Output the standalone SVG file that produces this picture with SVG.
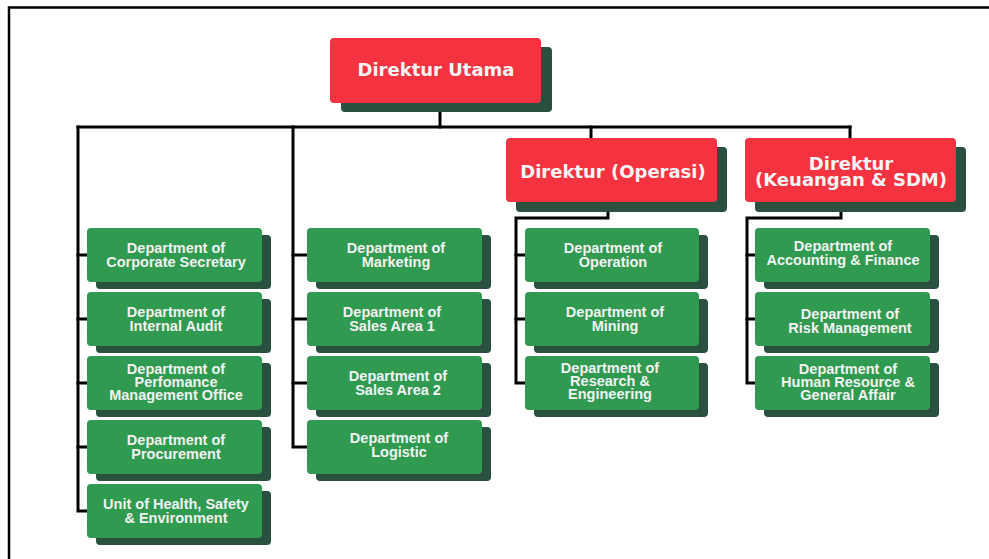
<svg xmlns="http://www.w3.org/2000/svg" width="989" height="559" viewBox="0 0 989 559">
<style>
.bg{fill:#ffffff}
.frame{fill:none;stroke:#000;stroke-width:2.5}
.conn{fill:none;stroke:#000;stroke-width:3;stroke-linecap:square;stroke-linejoin:miter}
.red{fill:#F5323F}
.gr{fill:#2F9A50}
.sh{fill:#2A5040}
.rt{font-family:"DejaVu Sans",sans-serif;font-weight:bold;font-size:18px;fill:#F6F6F6;text-anchor:middle}
.gt{font-family:"Liberation Sans",Arial,sans-serif;font-weight:bold;font-size:14.5px;fill:#F2F2F2;text-anchor:middle}
</style>
<rect class="bg" x="0" y="0" width="989" height="559"/>
<path class="frame" d="M9,559 V7.5 H989"/>
<g id="connectors">
<path class="conn" d="M440,105 V127"/>
<path class="conn" d="M78,127 H850"/>
<path class="conn" d="M78,127 V511 H87"/>
<path class="conn" d="M78,255 H87 M78,319 H87 M78,383 H87 M78,447 H87"/>
<path class="conn" d="M293,127 V447 H307"/>
<path class="conn" d="M293,255 H307 M293,319 H307 M293,383 H307"/>
<path class="conn" d="M591,127 V138"/>
<path class="conn" d="M850,127 V138"/>
<path class="conn" d="M608,210 V218 H516 V383 H525"/>
<path class="conn" d="M516,255 H525 M516,319 H525"/>
<path class="conn" d="M841,210 V218 H747 V383 H755"/>
<path class="conn" d="M747,255 H755 M747,319 H755"/>
</g>
<g id="direktur-utama">
<rect class="sh" x="341" y="47" width="211" height="65" rx="4"/>
<rect class="red" x="330" y="38" width="211" height="65" rx="4"/>
<text class="rt" x="436" y="76">Direktur Utama</text>
</g>
<g id="direktur-operasi">
<rect class="sh" x="516" y="147" width="211" height="65" rx="4"/>
<rect class="red" x="506" y="138" width="211" height="64" rx="4"/>
<text class="rt" x="613" y="178">Direktur (Operasi)</text>
</g>
<g id="direktur-keuangan">
<rect class="sh" x="755" y="147" width="211" height="65" rx="4"/>
<rect class="red" x="745" y="138" width="211" height="64" rx="4"/>
<text class="rt" x="851" y="170">Direktur<tspan x="851" dy="16">(Keuangan &amp; SDM)</tspan></text>
</g>
<g id="corporate-secretary">
<rect class="sh" x="96" y="235" width="175" height="54" rx="4"/>
<rect class="gr" x="87" y="228" width="175" height="54" rx="4"/>
<text class="gt" x="176" y="253">Department of<tspan x="176" dy="14">Corporate Secretary</tspan></text>
</g>
<g id="internal-audit">
<rect class="sh" x="96" y="299" width="175" height="54" rx="4"/>
<rect class="gr" x="87" y="292" width="175" height="54" rx="4"/>
<text class="gt" x="176" y="317">Department of<tspan x="176" dy="14">Internal Audit</tspan></text>
</g>
<g id="performance-management">
<rect class="sh" x="96" y="363" width="175" height="54" rx="4"/>
<rect class="gr" x="87" y="356" width="175" height="54" rx="4"/>
<text class="gt" x="176" y="374">Department of<tspan x="176" dy="13">Perfomance</tspan><tspan x="176" dy="13">Management Office</tspan></text>
</g>
<g id="procurement">
<rect class="sh" x="96" y="427" width="175" height="54" rx="4"/>
<rect class="gr" x="87" y="420" width="175" height="54" rx="4"/>
<text class="gt" x="176" y="445">Department of<tspan x="176" dy="14">Procurement</tspan></text>
</g>
<g id="hse">
<rect class="sh" x="96" y="491" width="175" height="54" rx="4"/>
<rect class="gr" x="87" y="484" width="175" height="54" rx="4"/>
<text class="gt" x="176" y="509">Unit of Health, Safety<tspan x="176" dy="14">&amp; Environment</tspan></text>
</g>
<g id="marketing">
<rect class="sh" x="316" y="235" width="175" height="54" rx="4"/>
<rect class="gr" x="307" y="228" width="175" height="54" rx="4"/>
<text class="gt" x="396" y="253">Department of<tspan x="396" dy="14">Marketing</tspan></text>
</g>
<g id="sales-area-1">
<rect class="sh" x="316" y="299" width="175" height="54" rx="4"/>
<rect class="gr" x="307" y="292" width="175" height="54" rx="4"/>
<text class="gt" x="392" y="317">Department of<tspan x="392" dy="14">Sales Area 1</tspan></text>
</g>
<g id="sales-area-2">
<rect class="sh" x="316" y="363" width="175" height="54" rx="4"/>
<rect class="gr" x="307" y="356" width="175" height="54" rx="4"/>
<text class="gt" x="398" y="381">Department of<tspan x="398" dy="14">Sales Area 2</tspan></text>
</g>
<g id="logistic">
<rect class="sh" x="316" y="427" width="175" height="54" rx="4"/>
<rect class="gr" x="307" y="420" width="175" height="54" rx="4"/>
<text class="gt" x="399" y="443">Department of<tspan x="399" dy="14">Logistic</tspan></text>
</g>
<g id="operation">
<rect class="sh" x="534" y="235" width="174" height="54" rx="4"/>
<rect class="gr" x="525" y="228" width="174" height="54" rx="4"/>
<text class="gt" x="613" y="253">Department of<tspan x="613" dy="14">Operation</tspan></text>
</g>
<g id="mining">
<rect class="sh" x="534" y="299" width="174" height="54" rx="4"/>
<rect class="gr" x="525" y="292" width="174" height="54" rx="4"/>
<text class="gt" x="615" y="317">Department of<tspan x="615" dy="14">Mining</tspan></text>
</g>
<g id="research-engineering">
<rect class="sh" x="534" y="363" width="174" height="54" rx="4"/>
<rect class="gr" x="525" y="356" width="174" height="54" rx="4"/>
<text class="gt" x="610" y="373">Department of<tspan x="610" dy="13">Research &amp;</tspan><tspan x="610" dy="13">Engineering</tspan></text>
</g>
<g id="accounting-finance">
<rect class="sh" x="764" y="235" width="175" height="54" rx="4"/>
<rect class="gr" x="755" y="228" width="175" height="54" rx="4"/>
<text class="gt" x="843" y="251">Department of<tspan x="843" dy="14">Accounting &amp; Finance</tspan></text>
</g>
<g id="risk-management">
<rect class="sh" x="764" y="299" width="175" height="54" rx="4"/>
<rect class="gr" x="755" y="292" width="175" height="54" rx="4"/>
<text class="gt" x="850" y="319">Department of<tspan x="850" dy="14">Risk Management</tspan></text>
</g>
<g id="human-resource">
<rect class="sh" x="764" y="363" width="175" height="54" rx="4"/>
<rect class="gr" x="755" y="356" width="175" height="54" rx="4"/>
<text class="gt" x="848" y="374">Department of<tspan x="848" dy="13">Human Resource &amp;</tspan><tspan x="848" dy="13">General Affair</tspan></text>
</g>
</svg>
